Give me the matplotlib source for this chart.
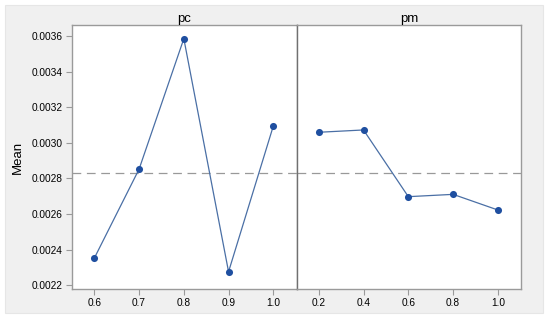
import matplotlib.pyplot as plt
from matplotlib.patches import Rectangle

# Main effects data
pc_levels = [0.6, 0.7, 0.8, 0.9, 1.0]
pc_means = [0.002352, 0.002852, 0.003585, 0.002275, 0.003094]
pm_levels = [0.2, 0.4, 0.6, 0.8, 1.0]
pm_means = [0.003059, 0.003072, 0.002697, 0.002710, 0.002622]
pc_ticks = [0.6, 0.7, 0.8, 0.9, 1.0]
pm_ticks = [0.2, 0.4, 0.6, 0.8, 1.0]
y_ticks = [0.0022, 0.0024, 0.0026, 0.0028, 0.0030, 0.0032, 0.0034, 0.0036]

grand_mean = sum(pc_means) / len(pc_means)

plt.rcParams['font.family'] = ['Liberation Sans', 'DejaVu Sans']

fig = plt.figure(figsize=(5.5, 3.21), dpi=100)
fig.patch.set_facecolor('white')
# light grey panel behind the plots
fig.patches.append(Rectangle((5 / 550, 1 - 313 / 321), 538 / 550, 308 / 321,
                             transform=fig.transFigure, facecolor='#f0f0f0',
                             edgecolor='#e6e6e6', linewidth=0.8, zorder=-5))

left, right = 72 / 550, 521 / 550
top, bottom = 1 - 25 / 321, 1 - 289 / 321
mid = 297 / 550
ax1 = fig.add_axes([left, bottom, mid - left, top - bottom])
ax2 = fig.add_axes([mid, bottom, right - mid, top - bottom], sharey=ax1)

line_c = '#4a6fa5'
dot_c = '#1f4fa0'
spine_c = '#9a9a9a'

panels = [(ax1, pc_levels, pc_means, pc_ticks, (0.55, 1.053), 'pc'),
          (ax2, pm_levels, pm_means, pm_ticks, (0.103, 1.103), 'pm')]
for ax, x, y, ticks, xlim, name in panels:
    ax.plot(x, y, color=line_c, linewidth=0.9, zorder=3)
    ax.scatter(x, y, s=26, color=dot_c, zorder=4, linewidths=0)
    ax.axhline(grand_mean, color='#999999', linestyle=(0, (7, 4.5)), linewidth=0.9, zorder=2)
    ax.set_xlim(*xlim)
    ax.set_xticks(ticks)
    ax.set_xticklabels(['%.1f' % t for t in ticks])
    ax.set_title(name, fontsize=9.5, pad=1.5)
    for s in ax.spines.values():
        s.set_color(spine_c)
        s.set_linewidth(1.0)
    ax.tick_params(direction='out', length=4, width=0.8, color=spine_c,
                   labelsize=7.3, pad=2.5)

ax1.set_ylim(0.002178, 0.003662)
ax1.set_yticks(y_ticks)
ax1.set_yticklabels(['%.4f' % v for v in y_ticks])
ax1.set_ylabel('Mean', fontsize=9.5, labelpad=6)
ax2.tick_params(axis='y', left=False, labelleft=False)
ax2.spines['left'].set_color('#707070')

plt.savefig('out.png', dpi=100, facecolor=fig.get_facecolor())
